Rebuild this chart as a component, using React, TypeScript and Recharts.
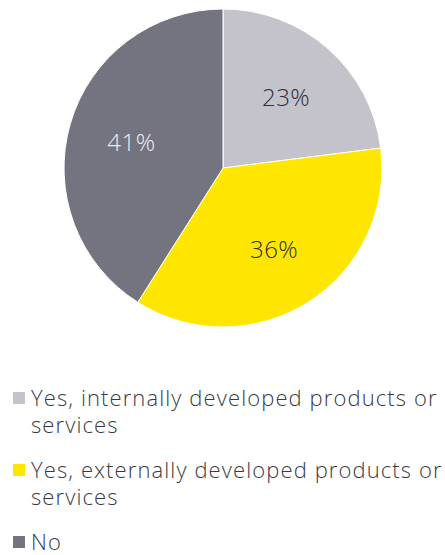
import { PieChart, Pie, Cell } from "recharts";

const answers = [
  "Yes, internally developed products or services",
  "Yes, externally developed products or services",
  "No",
];
const shares = [23, 36, 41];
const colors = ["#c4c3cb", "#ffe600", "#747480"];
const labelColors = ["#2e2e38", "#2e2e38", "#ededf0"];

const data = answers.map((name, i) => ({ name, value: shares[i] }));

const RADIAN = Math.PI / 180;
const FONT = "'Open Sans', sans-serif";

const renderLabel = (props: any) => {
  const { cx, cy, midAngle, outerRadius, index, value } = props;
  const r = outerRadius * 0.6;
  const x = cx + r * Math.cos(-midAngle * RADIAN);
  const y = cy + r * Math.sin(-midAngle * RADIAN);
  return (
    <text
      x={x}
      y={y}
      fill={labelColors[index]}
      textAnchor="middle"
      dominantBaseline="central"
      fontSize={24}
      fontWeight={300}
      letterSpacing={0.5}
      fontFamily={FONT}
    >
      {`${value}%`}
    </text>
  );
};

// legend sits below the pie as plain HTML so it doesn't push the plot area
const PieLegend = () => (
  <div
    style={{
      position: "absolute",
      left: 13,
      top: 384,
      width: 432,
      fontFamily: FONT,
    }}
  >
    {answers.map((name, i) => (
      <div
        key={name}
        style={{ display: "flex", alignItems: "flex-start", marginBottom: 18 }}
      >
        <span
          style={{
            width: 12,
            height: 12,
            background: colors[i],
            marginTop: 8,
            marginRight: 6,
            flexShrink: 0,
          }}
        />
        <span
          style={{
            width: 412,
            fontSize: 22,
            fontWeight: 300,
            letterSpacing: 1.1,
            lineHeight: "27px",
            color: "#3a3a44",
          }}
        >
          {name}
        </span>
      </div>
    ))}
  </div>
);

const App = () => {
  return (
    <div style={{ position: "absolute", left: 0, top: 0, width: 445, height: 555 }}>
      <PieChart
        width={445}
        height={340}
        margin={{ top: 0, right: 0, bottom: 0, left: 0 }}
      >
        <Pie
          data={data}
          dataKey="value"
          cx={223}
          cy={168}
          outerRadius={159}
          startAngle={90}
          endAngle={-270}
          stroke="#ffffff"
          strokeWidth={1}
          label={renderLabel}
          labelLine={false}
          isAnimationActive={false}
        >
          {data.map((d, i) => (
            <Cell key={d.name} fill={colors[i]} />
          ))}
        </Pie>
      </PieChart>
      <PieLegend />
    </div>
  );
};

export default App;
